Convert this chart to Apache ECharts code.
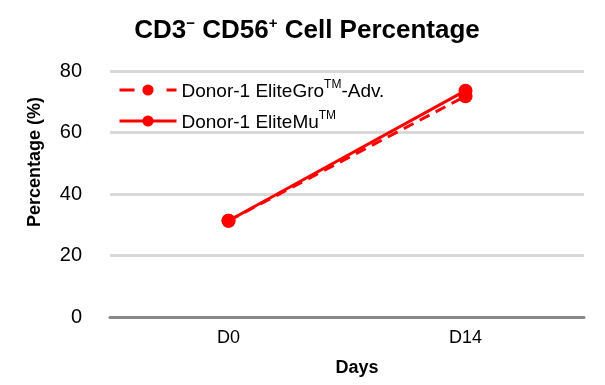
<!DOCTYPE html>
<html>
<head>
<meta charset="utf-8">
<script src="https://cdn.jsdelivr.net/npm/echarts@6/dist/echarts.min.js"></script>
<style>html,body{margin:0;padding:0;background:#fff}#c{width:605px;height:385px}</style>
</head>
<body>
<div id="c"></div>
<script>
var categories = ['D0', 'D14'];
var seriesNames = ['Donor-1 EliteGro™-Adv.', 'Donor-1 EliteMu™'];
var eliteGroAdv = [31.3, 71.8];
var eliteMu = [31.3, 73.6];
var yTicks = [0, 20, 40, 60, 80];

var chart = echarts.init(document.getElementById('c'));
var FONT = 'Liberation Sans, Arial, sans-serif';
chart.setOption({
  animation: false,
  backgroundColor: '#fff',
  title: {
    text: '{b|CD3}{s|−}{b| CD56}{s|+}{b| Cell Percentage}',
    left: 302, top: 9, textAlign: 'center',
    textStyle: {
      rich: {
        b: {fontFamily: FONT, fontWeight: 'bold', fontSize: 26, color: '#000', verticalAlign: 'bottom', lineHeight: 30},
        s: {fontFamily: FONT, fontWeight: 'bold', fontSize: 15, color: '#000', verticalAlign: 'top', lineHeight: 20, padding: [2, 0, 0, 0]}
      }
    }
  },
  legend: {
    orient: 'vertical',
    left: 113, top: 74,
    itemWidth: 57, itemHeight: 14, itemGap: 9,
    data: [
      {name: seriesNames[0], lineStyle: {width: 3, type: [15, 32], color: '#ff0000'}},
      {name: seriesNames[1], lineStyle: {width: 3, color: '#ff0000'}}
    ],
    formatter: function (n) {
      var base = n.split('™');
      return '{t|' + base[0] + '}{s|TM}' + (base[1] ? '{t|' + base[1] + '}' : '');
    },
    textStyle: {
      rich: {
        t: {fontFamily: FONT, fontSize: 19, color: '#000', verticalAlign: 'bottom', lineHeight: 22},
        s: {fontFamily: FONT, fontSize: 12, color: '#000', verticalAlign: 'top', lineHeight: 15}
      }
    }
  },
  grid: {left: 110, right: 21, top: 71, bottom: 68},
  xAxis: {
    type: 'category', data: categories, boundaryGap: true,
    axisLine: {lineStyle: {color: '#898989', width: 3}},
    axisTick: {show: false},
    axisLabel: {fontFamily: FONT, fontSize: 18, color: '#000', margin: 12},
    name: 'Days', nameLocation: 'middle', nameGap: 42,
    nameTextStyle: {fontFamily: FONT, fontSize: 18, fontWeight: 'bold', color: '#000', padding: [0, 0, 0, 20]}
  },
  yAxis: {
    type: 'value', min: yTicks[0], max: yTicks[yTicks.length - 1], interval: 20,
    axisLine: {show: false}, axisTick: {show: false},
    splitLine: {lineStyle: {color: '#d9d9d9', width: 3}},
    axisLabel: {fontFamily: FONT, fontSize: 20, color: '#000', margin: 28},
    name: 'Percentage (%)', nameLocation: 'middle', nameGap: 66,
    nameTextStyle: {fontFamily: FONT, fontSize: 18, fontWeight: 'bold', color: '#000', padding: [0, 0, 0, 64]}
  },
  series: [
    {
      name: seriesNames[0], type: 'line', data: eliteGroAdv,
      symbol: 'circle', symbolSize: 14,
      lineStyle: {color: '#ff0000', width: 3, type: [11, 7]},
      itemStyle: {color: '#ff0000'}
    },
    {
      name: seriesNames[1], type: 'line', data: eliteMu,
      symbol: 'circle', symbolSize: 14,
      lineStyle: {color: '#ff0000', width: 3},
      itemStyle: {color: '#ff0000'}
    }
  ]
});
</script>
</body>
</html>
